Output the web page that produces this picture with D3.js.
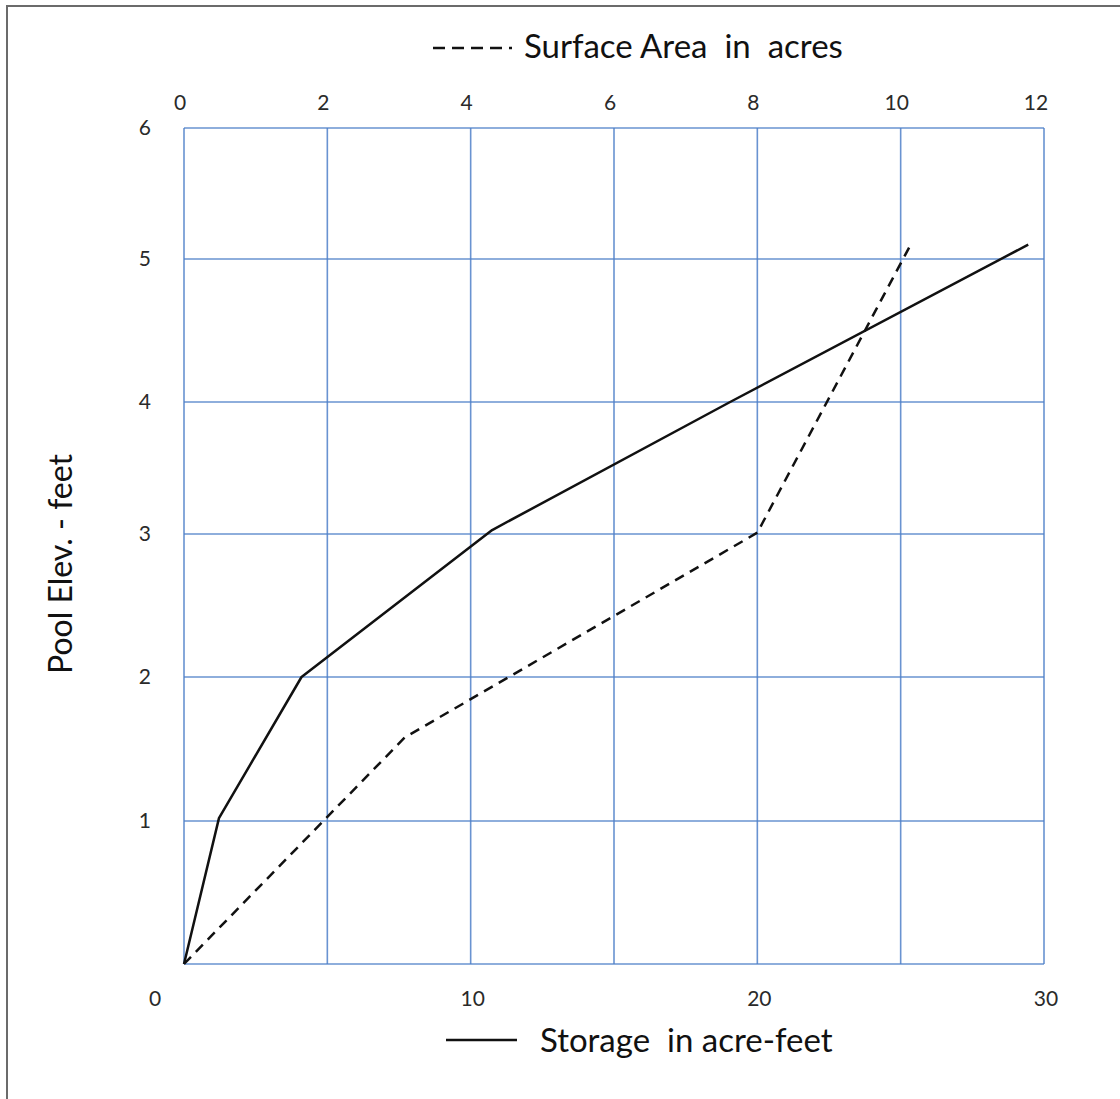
<!DOCTYPE html>
<html>
<head>
<meta charset="utf-8">
<script src="https://cdn.jsdelivr.net/npm/d3@7"></script>
<style>
  html, body { margin: 0; padding: 0; background: #fff; }
  svg { display: block; }
  text { font-family: Lato, "Open Sans", sans-serif; white-space: pre; }
</style>
</head>
<body>
<svg id="chart" width="1120" height="1099"></svg>
<script>
// ---- data ----
const elevTicks = [1, 2, 3, 4, 5, 6];
const storageTicks = [0, 10, 20, 30];
const areaTicks = [0, 2, 4, 6, 8, 10, 12];

// Storage (acre-feet) vs pool elevation (feet) — solid line
const storageValues = [0, 1.22, 4.1, 10.75, 19.05, 29.45];
const storageElev   = [0, 1.02, 2.0, 3.03, 4.0, 5.11];

// Surface area (acres) vs pool elevation (feet) — dashed line
const areaValues = [0, 3.08, 8.0, 10.15];
const areaElev   = [0, 1.58, 3.01, 5.12];

const titleTop = "Surface Area  in  acres";
const titleBottom = "Storage  in acre-feet";
const titleLeft = "Pool Elev. - feet";

// ---- layout ----
const svg = d3.select("#chart");
const L = 184, R = 1044, T = 128, B = 964;

const xBottom = d3.scaleLinear().domain([0, 30]).range([L, R]);
const xTop = d3.scaleLinear().domain([0, 12]).range([L, R]);
// the source grid is slightly uneven; piecewise-linear scale follows it
const y = d3.scaleLinear().domain([0, 1, 2, 3, 4, 5, 6]).range([964, 821, 677, 534, 402, 259, 128]);

// outer frame
svg.append("rect").attr("x", 7).attr("y", 6).attr("width", 1125).attr("height", 1110)
  .attr("fill", "none").attr("stroke", "#6b6b6b").attr("stroke-width", 2);

const gridColor = "#4f81c9";
const g = svg.append("g");

// vertical grid lines
g.selectAll("line.v").data(xTop.ticks(6)).join("line")
  .attr("x1", d => xTop(d)).attr("x2", d => xTop(d))
  .attr("y1", T).attr("y2", B)
  .attr("stroke", gridColor).attr("stroke-width", 1.6).attr("opacity", 0.85);

// horizontal grid lines
g.selectAll("line.h").data([0].concat(elevTicks)).join("line")
  .attr("x1", L).attr("x2", R)
  .attr("y1", d => y(d)).attr("y2", d => y(d))
  .attr("stroke", gridColor).attr("stroke-width", 1.6).attr("opacity", 0.85);

const tickColor = "#2a2a2a";
// left tick labels
svg.selectAll("text.yt").data(elevTicks).join("text")
  .attr("x", 151).attr("y", d => y(d)).attr("dy", "0.35em")
  .attr("text-anchor", "end").attr("font-size", 21).attr("fill", tickColor)
  .text(d => d);

// top tick labels
svg.selectAll("text.xt").data(areaTicks).join("text")
  .attr("x", d => xTop(d) - (d === 12 ? 8 : 4)).attr("y", 110)
  .attr("text-anchor", "middle").attr("font-size", 21).attr("fill", tickColor)
  .text(d => d);

// bottom tick labels
svg.selectAll("text.xb").data(storageTicks).join("text")
  .attr("x", d => xBottom(d) + (d === 0 ? -29 : 2)).attr("y", 1006)
  .attr("text-anchor", "middle").attr("font-size", 21).attr("fill", tickColor)
  .text(d => d);

// lines
const solid = d3.line().x(d => xBottom(d[0])).y(d => y(d[1]));
const dashed = d3.line().x(d => xTop(d[0])).y(d => y(d[1]));

svg.append("path").datum(d3.zip(storageValues, storageElev))
  .attr("d", solid).attr("fill", "none").attr("stroke", "#111")
  .attr("stroke-width", 2.5).attr("stroke-linejoin", "round");

svg.append("path").datum(d3.zip(areaValues, areaElev))
  .attr("d", dashed).attr("fill", "none").attr("stroke", "#111")
  .attr("stroke-width", 2.5).attr("stroke-dasharray", "10,7");

// top title with dashed legend marker
svg.append("line").attr("x1", 433).attr("x2", 512).attr("y1", 48).attr("y2", 48)
  .attr("stroke", "#111").attr("stroke-width", 2.5).attr("stroke-dasharray", "12,7");
svg.append("text").attr("x", 524).attr("y", 58).attr("font-size", 33).attr("fill", "#111")
  .text(titleTop);

// bottom title with solid legend marker
svg.append("line").attr("x1", 446).attr("x2", 517).attr("y1", 1040).attr("y2", 1040)
  .attr("stroke", "#111").attr("stroke-width", 2.5);
svg.append("text").attr("x", 540).attr("y", 1052).attr("font-size", 33).attr("fill", "#111")
  .text(titleBottom);

// left title
svg.append("text").attr("transform", "translate(72,564) rotate(-90)")
  .attr("text-anchor", "middle").attr("font-size", 32).attr("fill", "#111")
  .text(titleLeft);
</script>
</body>
</html>
